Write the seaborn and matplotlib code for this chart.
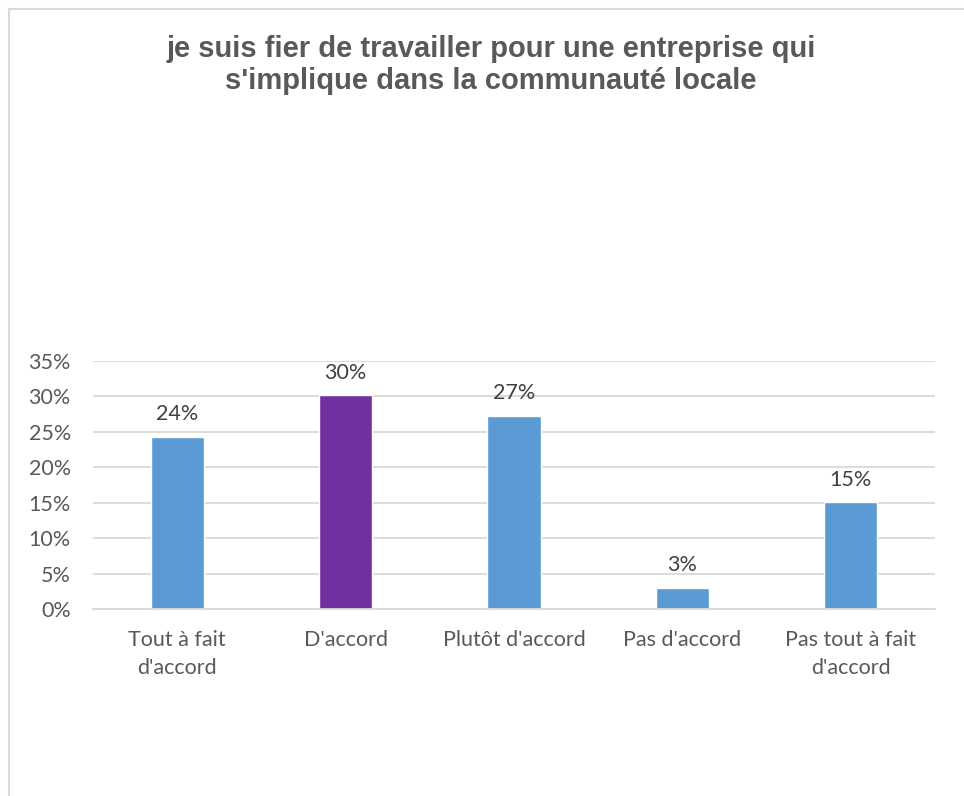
import matplotlib
matplotlib.use("Agg")
import matplotlib.pyplot as plt
import matplotlib.patches as mpatches
from matplotlib.ticker import FuncFormatter
import seaborn as sns
import pandas as pd

# Données
categories = ["Tout à fait\nd'accord", "D'accord", "Plutôt d'accord",
              "Pas d'accord", "Pas tout à fait\nd'accord"]
valeurs = [0.243, 0.302, 0.273, 0.030, 0.151]
couleurs = ["#5B9BD5", "#7030A0", "#5B9BD5", "#5B9BD5", "#5B9BD5"]
titre = "je suis fier de travailler pour une entreprise qui\ns'implique dans la communauté locale"

df = pd.DataFrame({"categorie": categories, "valeur": valeurs})

sns.set_theme(style="white")
plt.rcParams['font.family'] = ['Lato', 'DejaVu Sans']

W, H = 964, 796
fig = plt.figure(figsize=(W / 100, H / 100), dpi=100)
ax = fig.add_axes([93 / W, 1 - 609 / H, (935 - 93) / W, (609 - 361) / H])

sns.barplot(data=df, x="categorie", y="valeur", hue="categorie",
            palette=couleurs, width=0.315, legend=False, ax=ax,
            saturation=1)

# étiquettes de données
for p, v in zip(ax.patches, valeurs):
    ax.annotate(f"{v:.0%}", (p.get_x() + p.get_width() / 2, p.get_height()),
                xytext=(0, 9), textcoords="offset points",
                ha="center", va="bottom", fontsize=15.5, color="#404040")

ax.set_ylim(0, 0.35)
ax.set_yticks([i * 0.05 for i in range(8)])
ax.yaxis.set_major_formatter(FuncFormatter(lambda y, _: f"{y:.0%}"))
ax.set_xlim(-0.5, len(categories) - 0.5)
ax.grid(axis="y", color="#D9D9D9", linewidth=1.3)
ax.set_axisbelow(True)
for s in ["top", "right", "left"]:
    ax.spines[s].set_visible(False)
ax.spines["bottom"].set_color("#D9D9D9")
ax.spines["bottom"].set_linewidth(1.3)
ax.tick_params(axis="both", length=0, labelsize=15.5, labelcolor="#595959")
ax.tick_params(axis="y", pad=16)
ax.tick_params(axis="x", pad=15)
for lbl in ax.get_xticklabels():
    lbl.set_linespacing(1.5)
ax.set_xlabel("")
ax.set_ylabel("")

fig.text(491 / W, 1 - 65 / H, titre, ha="center", va="center",
         fontsize=21, fontweight="bold", color="#595959",
         family=["Liberation Sans", "DejaVu Sans"], linespacing=1.15)

# cadre du graphique
cadre = mpatches.Rectangle((8.5 / W, -0.05), 1.0, 1 - 8.5 / H + 0.05,
                           transform=fig.transFigure, fill=False,
                           edgecolor="#D9D9D9", linewidth=1.5)
fig.patches.append(cadre)

fig.savefig("out.png", dpi=100)
